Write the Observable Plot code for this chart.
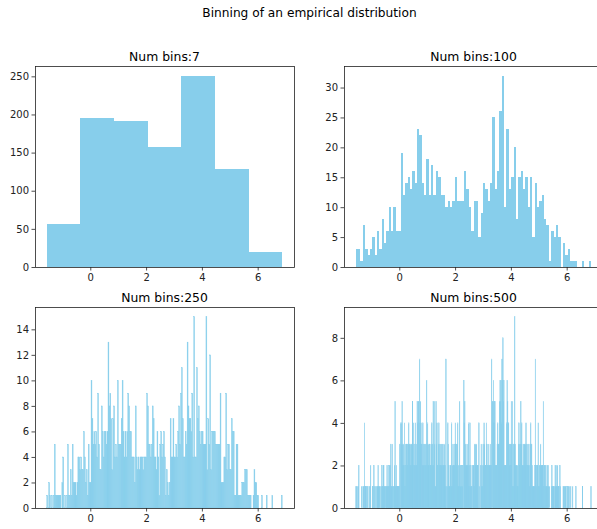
<!DOCTYPE html>
<html><head><meta charset="utf-8">
<script src="https://cdn.jsdelivr.net/npm/d3@7"></script>
<script src="https://cdn.jsdelivr.net/npm/@observablehq/plot@0.6"></script>
<style>
html,body{margin:0;padding:0;overflow:hidden;background:#fff;}
#fig{position:relative;width:597px;height:529px;overflow:hidden;font-family:"DejaVu Sans",sans-serif;background:#fff;}
.t{position:absolute;font-size:12.4px;color:#000;white-space:nowrap;transform:translateX(-50%);line-height:12px;}
.p{position:absolute;}
</style></head><body><div id="fig"></div>
<script>
// Range of the empirical sample (bin edges run from min to max)
const dataMin = -1.56, dataMax = 6.88;

const counts7 = [57,195,191,157,251,129,20];

const counts100 = [3,3,1,7,3,2,3,5,2,6, 3,8,4,6,10,6,10,6,6,19, 12,14,15,13,16,14,23,22,14,12,
 18,12,17,12,16,15,12,12,10,11, 10,11,15,11,11,11,16,13,10,6, 11,11,5,9,14,13,11,14,25,13,
 16,26,32,10,23,13,15,20,8,15, 16,13,15,10,15,5,14,10,11,12, 8,7,1,6,5,7,5,0,4,2,
 3,1,1,1,0,0,1,0,0,1];

const counts250 = [1,0,2,1,0,1,0,1,5,1, 1,1,1,1,1,0,2,4,0,1, 0,1,5,1,1,3,1,5,2,2,
 2,1,2,4,4,3,4,3,3,6, 4,2,3,1,5,2,2,10,7,5, 6,5,6,4,9,5,3,3,8,6,
 4,6,6,5,6,13,8,9,7,3, 7,8,4,5,4,10,5,5,5,7, 10,6,4,6,4,6,9,8,6,6,
 4,4,4,2,8,4,3,4,3,4, 4,4,3,4,4,4,9,8,5,5, 4,5,8,7,4,4,3,6,4,1,
 5,6,4,5,6,4,1,3,2,1, 2,7,4,4,7,4,4,5,4,6, 8,5,9,11,7,4,4,6,5,13,
 8,7,7,6,9,4,15,4,4,11, 7,8,6,5,6,6,5,5,5,15, 3,7,5,12,3,6,6,6,6,5,
 5,5,5,5,9,2,2,2,4,4, 9,3,5,5,3,3,7,6,6,1, 1,5,5,1,1,1,1,2,2,2,
 3,3,3,1,1,1,1,0,0,1, 3,2,2,1,1,0,0,0,1,0, 0,0,0,1,0,0,0,0,0,1,
 0,0,0,0,0,0,0,0,0,1];

const counts500 = [1,1,0,1,0, 1,2,0,0,0, 0,0,1,0,0, 1,1,0,4,1, 1,1,0,1,0,
 1,0,0,1,0, 1,2,0,0,0, 1,1,0,2,1, 0,1,0,1,0, 1,1,2,1,1,
 1,0,1,0,1, 2,1,1,2,2, 1,1,0,1,1, 1,2,1,1,1, 2,2,1,2,3,
 1,1,3,1,0, 1,1,2,5,1, 1,2,1,1,1, 1,1,1,3,0, 4,3,4,5,3,
 2,3,2,4,1, 3,2,3,3,3, 2,3,4,3,3, 2,3,2,3,3, 5,3,4,2,2,
 3,4,2,3,2, 5,4,5,5,4, 7,3,5,4,3, 3,2,4,2,3, 2,3,2,3,2,
 6,3,4,2,3, 2,3,3,2,2, 3,4,2,3,5, 2,5,3,1,1, 5,3,4,2,2,
 3,4,3,2,3, 2,3,2,3,2, 3,2,2,3,2, 1,7,1,0,1, 4,3,2,1,1,
 2,2,1,4,1, 2,3,2,2,2, 3,4,3,3,2, 3,4,1,2,1, 5,2,1,2,1,
 2,1,2,0,6, 4,5,2,3,2, 2,3,2,2,4, 1,2,4,1,2, 1,1,0,2,2,
 2,1,3,2,3, 2,3,2,2,2, 0,4,1,0,0, 2,3,1,2,1, 3,2,4,3,2,
 2,2,4,3,2, 2,3,2,2,2, 3,2,2,7,0, 5,5,6,4,5, 5,2,2,2,2,
 3,4,3,3,3, 5,6,5,6,4, 7,6,8,5,6, 2,2,2,2,2, 4,6,5,4,4,
 3,2,3,3,2, 5,3,5,1,1, 3,3,9,3,2, 2,2,1,2,1, 3,4,3,2,3,
 5,3,4,2,2, 3,2,3,3,2, 3,4,3,2,3, 2,2,3,2,1, 3,4,3,3,2,
 1,1,1,1,1, 2,7,2,1,2, 2,2,4,1,1, 2,2,3,2,2, 2,2,2,5,1,
 2,2,1,2,1, 1,2,1,2,1, 0,1,0,0,0, 1,2,1,1,1, 1,1,0,2,1,
 2,1,1,2,1, 1,1,0,2,1, 0,0,0,0,0, 1,1,0,1,1, 1,0,0,1,0,
 1,1,0,1,0, 0,1,0,0,0, 1,0,0,0,0, 0,0,1,0,0, 0,0,0,0,0,
 0,0,0,0,0, 0,1,0,0,0, 0,0,0,0,0, 0,0,0,0,0, 0,0,0,0,1];

const xTicks = [0, 2, 4, 6];
const yTicks7 = [0, 50, 100, 150, 200, 250];
const yTicks100 = [0, 5, 10, 15, 20, 25, 30];
const yTicks250 = [0, 2, 4, 6, 8, 10, 12, 14];
const yTicks500 = [0, 2, 4, 6, 8];

const suptitle = "Binning of an empirical distribution";
const titlePrefix = "Num bins:";

const fig = document.getElementById("fig");
function addText(txt, cx, top, size) {
  const d = document.createElement("div");
  d.className = "t"; d.textContent = txt;
  d.style.left = cx + "px"; d.style.top = top + "px";
  if (size) d.style.fontSize = size + "px";
  fig.appendChild(d);
}
addText(suptitle, 309.5, 7, 12.2);

const panels = [
  {counts: counts7, yTicks: yTicks7, left: 0, top: 50, crisp: true, sw: 0},
  {counts: counts100, yTicks: yTicks100, left: 309, top: 50, crisp: true, sw: 0},
  {counts: counts250, yTicks: yTicks250, left: 0, top: 291, crisp: false, sw: 0.35},
  {counts: counts500, yTicks: yTicks500, left: 309, top: 291, crisp: false, sw: 0.5}
];

const range = dataMax - dataMin;
for (const p of panels) {
  const n = p.counts.length;
  const w = range / n;
  const rows = p.counts.map((c, i) => ({x1: dataMin + i * w, x2: dataMin + (i + 1) * w, c}));
  const ymax = d3.max(p.counts) * 1.05;
  const barOpts = {x1: "x1", x2: "x2", y1: 0, y2: "c", fill: "#87ceeb", inset: 0};
  if (p.crisp) barOpts.shapeRendering = "crispEdges";
  else { barOpts.stroke = "#87ceeb"; barOpts.strokeWidth = p.sw; }
  const chart = Plot.plot({
    width: 300, height: 240,
    marginLeft: 35, marginRight: 6, marginTop: 16, marginBottom: 23,
    style: {fontFamily: "DejaVu Sans", fontSize: "10px", color: "#222", background: "transparent", overflow: "visible"},
    x: {domain: [dataMin - 0.05 * range, dataMax + 0.05 * range], label: null},
    y: {domain: [0, ymax], label: null},
    marks: [
      Plot.rectY(rows.filter(r => r.c > 0), barOpts),
      Plot.frame({stroke: "#222", strokeWidth: 0.8}),
      Plot.axisX({ticks: xTicks, tickSize: 3.5, tickPadding: 3, strokeWidth: 0.8, tickFormat: d => String(d)}),
      Plot.axisY({ticks: p.yTicks, tickSize: 3.5, tickPadding: 3, strokeWidth: 0.8, tickFormat: d => String(d)})
    ]
  });
  chart.classList.add("p");
  chart.style.left = p.left + "px";
  chart.style.top = p.top + "px";
  fig.appendChild(chart);
  addText(titlePrefix + n, p.left + 35 + 129.5, p.top + 1);
}
</script></body></html>
